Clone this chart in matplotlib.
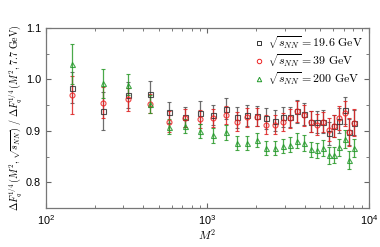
import numpy as np
import matplotlib
matplotlib.use("Agg")
import matplotlib.pyplot as plt
from matplotlib.ticker import MultipleLocator
from matplotlib.lines import Line2D

plt.rcParams["mathtext.fontset"] = "cm"
plt.rcParams["font.family"] = ["Liberation Sans", "DejaVu Sans"]

# M^2 values (M = 12, 15, ..., 90)
M2 = [144, 225, 324, 441, 576, 729, 900, 1089, 1296, 1521, 1764, 2025,
      2304, 2601, 2916, 3249, 3600, 3969, 4356, 4761, 5184, 5625, 6084,
      6561, 7056, 7569, 8100]

# sqrt(s_NN) = 19.6 GeV
Y196 = [0.984, 0.939, 0.969, 0.971, 0.936, 0.927, 0.935, 0.931, 0.943, 0.926,
        0.930, 0.929, 0.924, 0.920, 0.927, 0.927, 0.938, 0.933, 0.918, 0.917,
        0.918, 0.895, 0.909, 0.920, 0.940, 0.897, 0.916]
E196 = [0.030, 0.037, 0.025, 0.025, 0.020, 0.020, 0.022, 0.020, 0.020, 0.020,
        0.020, 0.020, 0.020, 0.020, 0.020, 0.020, 0.022, 0.022, 0.020, 0.022,
        0.022, 0.022, 0.022, 0.024, 0.026, 0.025, 0.025]

# sqrt(s_NN) = 39 GeV
Y39 = [0.969, 0.955, 0.961, 0.953, 0.918, 0.925, 0.923, 0.925, 0.931, 0.918,
       0.926, 0.927, 0.912, 0.912, 0.917, 0.924, 0.938, 0.930, 0.918, 0.912,
       0.917, 0.902, 0.909, 0.925, 0.934, 0.897, 0.916]
E39 = [0.037, 0.031, 0.022, 0.019, 0.020, 0.018, 0.018, 0.018, 0.018, 0.018,
       0.018, 0.018, 0.018, 0.018, 0.018, 0.018, 0.020, 0.020, 0.020, 0.020,
       0.020, 0.022, 0.022, 0.024, 0.024, 0.027, 0.026]

# sqrt(s_NN) = 200 GeV
Y200 = [1.030, 0.992, 0.990, 0.952, 0.908, 0.909, 0.900, 0.891, 0.897, 0.876,
        0.876, 0.882, 0.867, 0.867, 0.870, 0.873, 0.881, 0.876, 0.864, 0.862,
        0.867, 0.852, 0.853, 0.868, 0.884, 0.843, 0.867]
E200 = [0.039, 0.028, 0.021, 0.017, 0.014, 0.014, 0.014, 0.014, 0.014, 0.014,
        0.014, 0.014, 0.014, 0.014, 0.014, 0.015, 0.015, 0.015, 0.015, 0.015,
        0.016, 0.016, 0.016, 0.017, 0.017, 0.018, 0.018]

LABELS = [r"$\sqrt{s_{NN}} = 19.6\ \mathrm{GeV}$",
          r"$\sqrt{s_{NN}} = 39\ \mathrm{GeV}$",
          r"$\sqrt{s_{NN}} = 200\ \mathrm{GeV}$"]

fig = plt.figure(figsize=(3.8, 2.47), dpi=100)
ax = fig.add_axes([0.121, 0.158, 0.850, 0.729])

series = [
    (Y196, E196, "s", "#333333", "#555555"),
    (Y39, E39, "o", "#ee2222", "#dd2222"),
    (Y200, E200, "^", "#22992a", "#2a9a2a"),
]
handles = []
for (y, e, mk, mc, ec), lab in zip(series, LABELS):
    ax.errorbar(M2, y, yerr=e, fmt=mk, ms=3.6, mfc="none", mec=mc, mew=0.8,
                ecolor=ec, elinewidth=0.9, capsize=1.6, capthick=0.8,
                alpha=0.85)
    handles.append(Line2D([0], [0], marker=mk, ls="none", ms=3.2, mfc="none",
                          mec=mc, mew=0.7, label=lab))

ax.set_xscale("log")
ax.set_xlim(100, 10000)
ax.set_ylim(0.75, 1.1)
ax.yaxis.set_major_locator(MultipleLocator(0.1))
ax.yaxis.set_minor_locator(MultipleLocator(0.05))
ax.set_yticks([0.8, 0.9, 1.0, 1.1])
ax.set_yticklabels(["0.8", "0.9", "1.0", "1.1"])

ax.tick_params(which="both", direction="in", top=True, right=True,
               labelsize=7.8, color="#666666")
ax.tick_params(which="major", length=3.5)
ax.tick_params(which="minor", length=2)
for sp in ax.spines.values():
    sp.set_color("#777777")
    sp.set_linewidth(0.9)

ax.set_xlabel(r"$M^2$", fontsize=8.5, labelpad=1)
ax.set_ylabel(r"$\Delta F_q^{1/4}\,(M^2,\sqrt{s_{NN}})\ /\ \Delta F_q^{1/4}\,(M^2, 7.7\ \mathrm{GeV})$",
              fontsize=7.2, labelpad=1)

ax.legend(handles=handles, loc="upper right", fontsize=8.6, frameon=False,
          handletextpad=0.3, handlelength=0.8, labelspacing=0.1,
          borderaxespad=0.15)

fig.savefig("out.png", dpi=100)
